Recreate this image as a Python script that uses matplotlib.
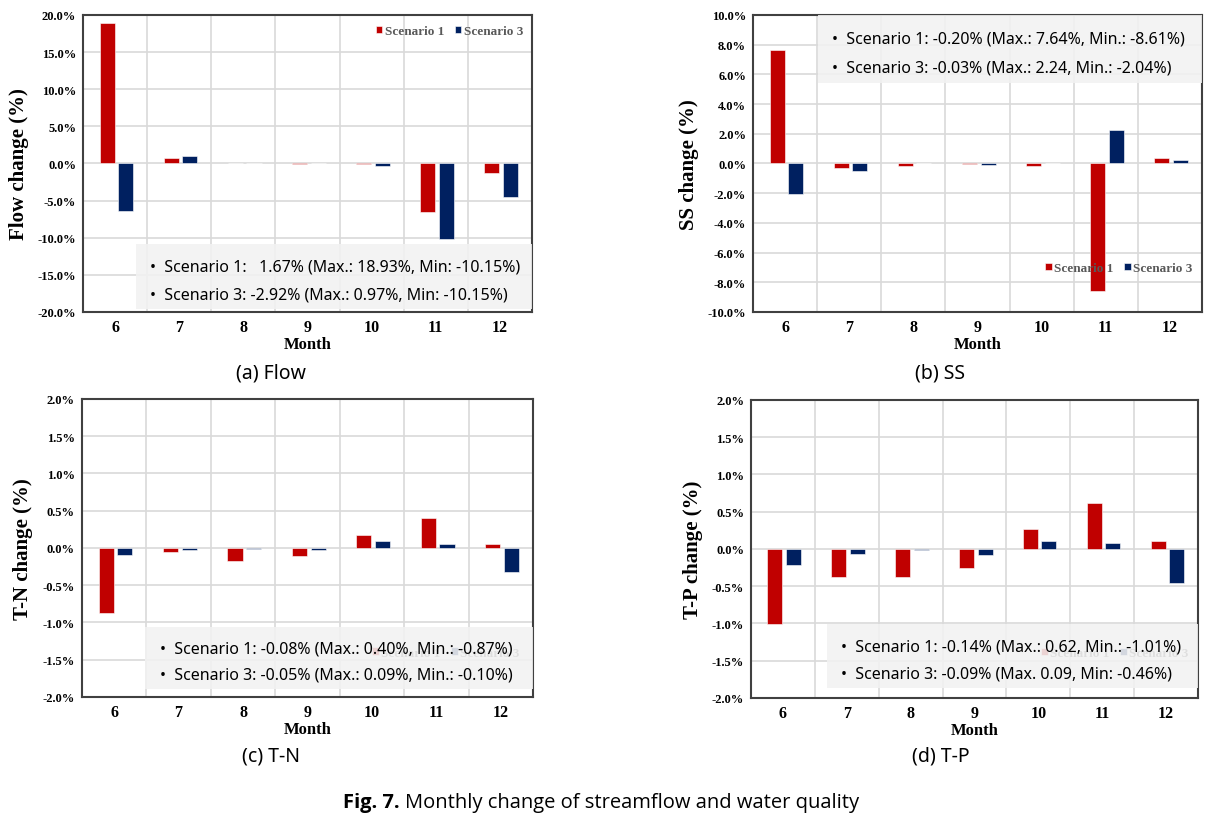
import numpy as np
import matplotlib.pyplot as plt
from matplotlib.patches import Rectangle
from matplotlib.ticker import FuncFormatter, MultipleLocator

months = [6, 7, 8, 9, 10, 11, 12]
labels = ['Scenario 1', 'Scenario 3']

flow_s1 = [18.93, 0.70, 0.05, -0.05, -0.05, -6.50, -1.30]
flow_s3 = [-6.40, 0.97, 0.05, 0.05, -0.30, -10.15, -4.50]
ss_s1 = [7.64, -0.30, -0.20, -0.05, -0.15, -8.61, 0.35]
ss_s3 = [-2.04, -0.50, 0.05, -0.10, 0.05, 2.24, 0.25]
tn_s1 = [-0.87, -0.06, -0.17, -0.11, 0.18, 0.40, 0.05]
tn_s3 = [-0.10, -0.03, -0.01, -0.03, 0.09, 0.05, -0.32]
tp_s1 = [-1.01, -0.38, -0.37, -0.26, 0.27, 0.62, 0.11]
tp_s3 = [-0.22, -0.07, -0.02, -0.08, 0.11, 0.08, -0.46]

flow_notes = ['•  Scenario 1:   1.67% (Max.: 18.93%, Min: -10.15%)',
              '•  Scenario 3: -2.92% (Max.: 0.97%, Min: -10.15%)']
ss_notes = ['•  Scenario 1: -0.20% (Max.: 7.64%, Min.: -8.61%)',
            '•  Scenario 3: -0.03% (Max.: 2.24, Min.: -2.04%)']
tn_notes = ['•  Scenario 1: -0.08% (Max.: 0.40%, Min.: -0.87%)',
            '•  Scenario 3: -0.05% (Max.: 0.09%, Min.: -0.10%)']
tp_notes = ['•  Scenario 1: -0.14% (Max.: 0.62, Min.: -1.01%)',
            '•  Scenario 3: -0.09% (Max. 0.09, Min: -0.46%)']

RED = '#C00000'
NAVY = '#002060'
SERIF = 'Liberation Serif'
SANS = 'Noto Sans'

fig = plt.figure(figsize=(12.23, 8.2), dpi=100)


def panel(rect, s1, s3, ylim, step, ylabel, ylab_x, notes, box, leg_loc, caption, cap_xy):
    ax = fig.add_axes(rect)
    x = np.arange(len(months))
    ax.bar(x - 0.125, s1, 0.235, color=RED, edgecolor='white', linewidth=0.4, zorder=3, label=labels[0])
    ax.bar(x + 0.165, s3, 0.235, color=NAVY, edgecolor='white', linewidth=0.4, zorder=3, label=labels[1])
    ax.set_xlim(-0.5, len(months) - 0.5)
    ax.set_ylim(*ylim)
    ax.set_xticks(x)
    ax.set_xticklabels([str(m) for m in months], fontfamily=SERIF, fontweight='bold', fontsize=11.5)
    ax.set_xticks(np.arange(len(months) + 1) - 0.5, minor=True)
    ax.yaxis.set_major_locator(MultipleLocator(step))
    ax.yaxis.set_major_formatter(FuncFormatter(lambda v, p: f'{v:.1f}%'))
    for t in ax.get_yticklabels():
        t.set_fontfamily(SERIF)
        t.set_fontweight('bold')
        t.set_fontsize(9)
    ax.tick_params(length=0, which='both', pad=5)
    ax.grid(True, axis='y', which='major', color='#D9D9D9', linewidth=1.2, zorder=0)
    ax.grid(True, axis='x', which='minor', color='#D9D9D9', linewidth=1.2, zorder=0)
    for s in ax.spines.values():
        s.set_color('#404040')
        s.set_linewidth(1.5)
    ax.set_xlabel('Month', fontfamily=SERIF, fontweight='bold', fontsize=12, labelpad=1)
    ax.set_ylabel(ylabel, fontfamily=SERIF, fontweight='bold', fontsize=15)
    ax.yaxis.set_label_coords(ylab_x, 0.5)

    leg = ax.legend(loc='center', bbox_to_anchor=leg_loc, ncol=2, frameon=False,
                    handlelength=0.5, handleheight=0.5, handletextpad=0.2, columnspacing=0.8,
                    prop={'family': SERIF, 'weight': 'bold', 'size': 9.5}, labelcolor='#595959')
    leg.set_zorder(4)

    # grey note box sits over the legend, like the original
    x0, y0, x1, y1 = box
    ax.add_patch(Rectangle((x0, y0), x1 - x0, y1 - y0, transform=ax.transAxes,
                           facecolor='#F2F2F2', edgecolor='none', alpha=0.88, zorder=6))
    h = y1 - y0
    for i, line in enumerate(notes):
        ax.text(x0 + 0.032, y1 - h * (0.35 + 0.42 * i), line, transform=ax.transAxes,
                fontfamily=SANS, fontsize=11.5, va='center', ha='left', zorder=7)

    fig.text(cap_xy[0], cap_xy[1], caption, ha='center', va='center', fontfamily=SANS, fontsize=14)
    return ax


panel([0.0679, 0.6183, 0.3671, 0.3622], flow_s1, flow_s3, (-20, 20), 5, 'Flow change (%)', -0.12,
      flow_notes, (0.118, 0.01, 1.0, 0.229), (0.816, 0.946), '(a) Flow', (0.2216, 0.545))
panel([0.6157, 0.6183, 0.3671, 0.3622], ss_s1, ss_s3, (-10, 10), 2, 'SS change (%)', -0.12,
      ss_notes, (0.145, 0.77, 1.0, 1.0), (0.815, 0.148), '(b) SS', (0.769, 0.545))
panel([0.0670, 0.1488, 0.3688, 0.3634], tn_s1, tn_s3, (-2, 2), 0.5, 'T-N change (%)', -0.109,
      tn_notes, (0.14, 0.027, 1.0, 0.235), (0.807, 0.148), '(c) T-N', (0.2216, 0.077))
panel([0.6141, 0.1476, 0.3655, 0.3634], tp_s1, tp_s3, (-2, 2), 0.5, 'T-P change (%)', -0.107,
      tp_notes, (0.17, 0.034, 1.0, 0.248), (0.814, 0.151), '(d) T-P', (0.769, 0.077))

fig.text(0.327, 0.021, 'Fig. 7.', ha='right', va='center', fontfamily='Open Sans', fontweight='bold', fontsize=14.5)
fig.text(0.331, 0.021, 'Monthly change of streamflow and water quality', ha='left', va='center',
         fontfamily='Open Sans', fontsize=14.5)

fig.savefig('out.png', dpi=100)
